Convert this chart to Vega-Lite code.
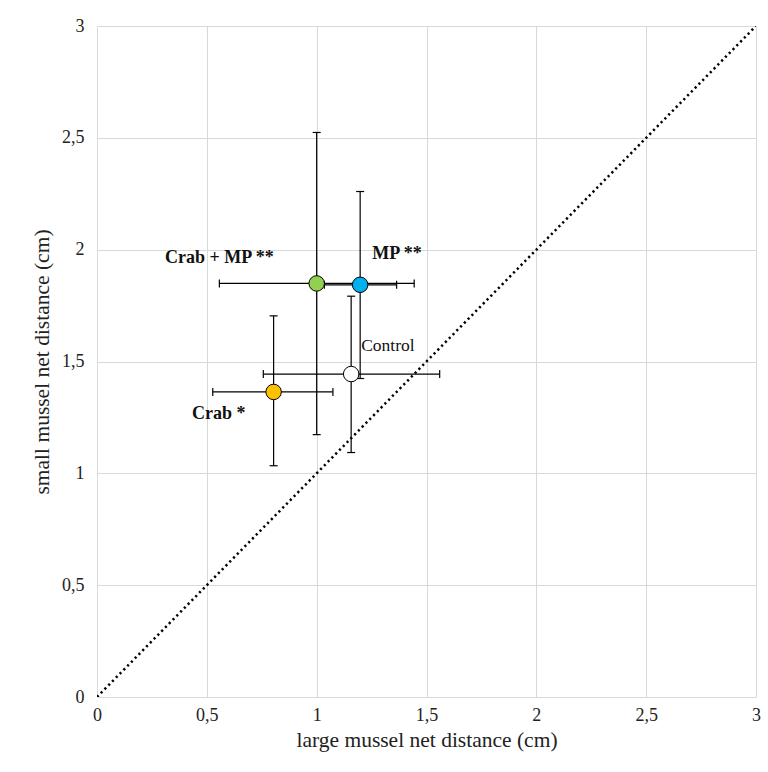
{
  "$schema": "https://vega.github.io/schema/vega-lite/v6.json",
  "autosize": "none",
  "width": 659,
  "height": 671,
  "padding": {"left": 97, "top": 26, "right": 12, "bottom": 75},
  "background": "white",
  "config": {
    "font": "Liberation Serif",
    "view": {"stroke": null}
  },
  "datasets": {
    "groups": [
      {"group": "Crab + MP", "label": "Crab + MP **", "large": 1.0, "small": 1.849, "large_lo": 0.557, "large_hi": 1.444, "small_lo": 1.173, "small_hi": 2.524},
      {"group": "MP", "label": "MP **", "large": 1.198, "small": 1.843, "large_lo": 1.035, "large_hi": 1.364, "small_lo": 1.424, "small_hi": 2.26},
      {"group": "Control", "label": "Control", "large": 1.157, "small": 1.444, "large_lo": 0.757, "large_hi": 1.56, "small_lo": 1.093, "small_hi": 1.792},
      {"group": "Crab", "label": "Crab *", "large": 0.804, "small": 1.364, "large_lo": 0.527, "large_hi": 1.074, "small_lo": 1.034, "small_hi": 1.704}
    ],
    "diagonal": [
      {"large": 0, "small": 0},
      {"large": 3, "small": 3}
    ]
  },
  "layer": [
    {
      "data": {"name": "diagonal"},
      "mark": {"type": "line", "color": "black", "strokeWidth": 2.5, "strokeDash": [2.2, 3.2], "clip": true},
      "encoding": {
        "x": {"field": "large", "type": "quantitative", "scale": {"domain": [0, 3], "nice": false},
          "axis": {"values": [0, 0.5, 1, 1.5, 2, 2.5, 3], "format": "~g", "labelExpr": "replace(datum.label, '.', ',')",
            "grid": true, "gridColor": "#d9d9d9", "gridWidth": 1, "domain": false, "ticks": false, "tickSize": 0, "labelFlush": false,
            "labelFont": "Liberation Serif", "labelFontSize": 18, "labelColor": "#222222", "labelPadding": 9,
            "title": "large mussel net distance (cm)", "titleFont": "Liberation Serif", "titleFontSize": 21.5, "titleFontWeight": "normal", "titleColor": "#222222", "titlePadding": 5}},
        "y": {"field": "small", "type": "quantitative", "scale": {"domain": [0, 3], "nice": false},
          "axis": {"values": [0, 0.5, 1, 1.5, 2, 2.5, 3], "format": "~g", "labelExpr": "replace(datum.label, '.', ',')",
            "grid": true, "gridColor": "#d9d9d9", "gridWidth": 1, "domain": false, "ticks": false, "tickSize": 0, "labelFlush": false,
            "labelFont": "Liberation Serif", "labelFontSize": 18, "labelColor": "#222222", "labelPadding": 13,
            "title": "small mussel net distance (cm)", "titleFont": "Liberation Serif", "titleFontSize": 21.5, "titleFontWeight": "normal", "titleColor": "#222222", "titlePadding": 8}}
      }
    },
    {
      "data": {"name": "groups"},
      "mark": {"type": "rule", "color": "black", "strokeWidth": 1.2},
      "encoding": {
        "x": {"field": "large_lo", "type": "quantitative"},
        "x2": {"field": "large_hi"},
        "y": {"field": "small", "type": "quantitative"}
      }
    },
    {
      "data": {"name": "groups"},
      "mark": {"type": "rule", "color": "black", "strokeWidth": 1.2},
      "encoding": {
        "x": {"field": "large", "type": "quantitative"},
        "y": {"field": "small_lo", "type": "quantitative"},
        "y2": {"field": "small_hi"}
      }
    },
    {
      "data": {"name": "groups"},
      "mark": {"type": "tick", "orient": "vertical", "color": "black", "size": 8, "thickness": 1.2, "opacity": 1},
      "encoding": {
        "x": {"field": "large_lo", "type": "quantitative"},
        "y": {"field": "small", "type": "quantitative"}
      }
    },
    {
      "data": {"name": "groups"},
      "mark": {"type": "tick", "orient": "vertical", "color": "black", "size": 8, "thickness": 1.2, "opacity": 1},
      "encoding": {
        "x": {"field": "large_hi", "type": "quantitative"},
        "y": {"field": "small", "type": "quantitative"}
      }
    },
    {
      "data": {"name": "groups"},
      "mark": {"type": "tick", "orient": "horizontal", "color": "black", "size": 8, "thickness": 1.2, "opacity": 1},
      "encoding": {
        "x": {"field": "large", "type": "quantitative"},
        "y": {"field": "small_lo", "type": "quantitative"}
      }
    },
    {
      "data": {"name": "groups"},
      "mark": {"type": "tick", "orient": "horizontal", "color": "black", "size": 8, "thickness": 1.2, "opacity": 1},
      "encoding": {
        "x": {"field": "large", "type": "quantitative"},
        "y": {"field": "small_hi", "type": "quantitative"}
      }
    },
    {
      "data": {"name": "groups"},
      "mark": {"type": "point", "shape": "circle", "filled": true, "size": 240, "stroke": "black", "strokeWidth": 1, "opacity": 1},
      "encoding": {
        "x": {"field": "large", "type": "quantitative"},
        "y": {"field": "small", "type": "quantitative"},
        "fill": {
          "field": "group",
          "type": "nominal",
          "scale": {"domain": ["Crab + MP", "MP", "Control", "Crab"], "range": ["#92D050", "#00B0F0", "#FFFFFF", "#FFC000"]},
          "legend": null
        }
      }
    },
    {
      "data": {"name": "groups"},
      "transform": [{"filter": "datum.group === 'Crab + MP'"}],
      "mark": {"type": "text", "align": "right", "baseline": "alphabetic", "dx": -43, "dy": -20, "font": "Liberation Serif", "fontWeight": "bold", "fontSize": 18, "color": "#111111"},
      "encoding": {
        "x": {"field": "large", "type": "quantitative"},
        "y": {"field": "small", "type": "quantitative"},
        "text": {"field": "label"}
      }
    },
    {
      "data": {"name": "groups"},
      "transform": [{"filter": "datum.group === 'MP'"}],
      "mark": {"type": "text", "align": "left", "baseline": "alphabetic", "dx": 12, "dy": -26, "font": "Liberation Serif", "fontWeight": "bold", "fontSize": 18, "color": "#111111"},
      "encoding": {
        "x": {"field": "large", "type": "quantitative"},
        "y": {"field": "small", "type": "quantitative"},
        "text": {"field": "label"}
      }
    },
    {
      "data": {"name": "groups"},
      "transform": [{"filter": "datum.group === 'Control'"}],
      "mark": {"type": "text", "align": "left", "baseline": "alphabetic", "dx": 10, "dy": -23, "font": "Liberation Serif", "fontWeight": "normal", "fontSize": 17.5, "color": "#111111"},
      "encoding": {
        "x": {"field": "large", "type": "quantitative"},
        "y": {"field": "small", "type": "quantitative"},
        "text": {"field": "label"}
      }
    },
    {
      "data": {"name": "groups"},
      "transform": [{"filter": "datum.group === 'Crab'"}],
      "mark": {"type": "text", "align": "right", "baseline": "alphabetic", "dx": -28, "dy": 27, "font": "Liberation Serif", "fontWeight": "bold", "fontSize": 18, "color": "#111111"},
      "encoding": {
        "x": {"field": "large", "type": "quantitative"},
        "y": {"field": "small", "type": "quantitative"},
        "text": {"field": "label"}
      }
    }
  ]
}
